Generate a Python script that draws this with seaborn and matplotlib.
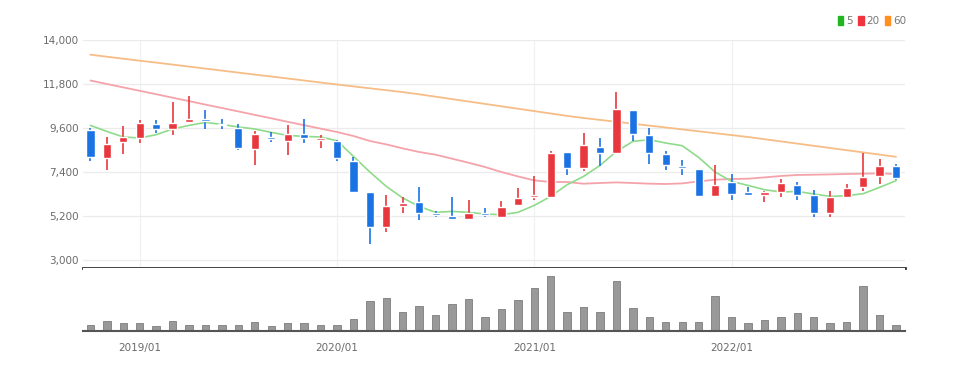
import numpy as np
import pandas as pd
import matplotlib
matplotlib.use("Agg")
import matplotlib.pyplot as plt
import seaborn as sns
from matplotlib.patches import Patch
import matplotlib.ticker as mtick

sns.set_style("white")
plt.rcParams['font.family'] = ['Liberation Sans Narrow', 'DejaVu Sans']

# monthly candles, 2018/10 .. 2022/11
months = pd.date_range("2018-10-01", periods=50, freq="MS")

opens = [9515, 8100, 8880, 9100, 9815, 9550, 9880, 10030, 9815, 9600,
         8565, 9150, 8930, 9300, 9015, 8965, 7965, 6415, 4630, 5700,
         5900, 5365, 5180, 5050, 5330, 5165, 5730, 6150, 6165, 8400,
         7580, 8665, 8350, 10515, 9230, 8315, 7715, 7550, 6180, 6880,
         6400, 6265, 6400, 6765, 6230, 5350, 6165, 6650, 7215, 7680]
closes = [8130, 8800, 9130, 9830, 9565, 9865, 10030, 9930, 9750, 8600,
          9315, 9050, 9300, 9100, 9115, 8100, 6415, 4650, 5680, 5865,
          5350, 5230, 5065, 5350, 5230, 5630, 6100, 6230, 8365, 7600,
          8750, 8330, 10565, 9300, 8350, 7765, 7600, 6180, 6750, 6300,
          6265, 6400, 6830, 6265, 5330, 6150, 6600, 7165, 7700, 7100]
highs = [9600, 9130, 9715, 10015, 9980, 10880, 11180, 10500, 10050, 9800,
         9430, 9415, 9750, 10030, 9250, 9015, 8165, 6415, 6265, 6130,
         6650, 5465, 6130, 6015, 5600, 5965, 6600, 7215, 8430, 8400,
         9330, 9100, 11400, 10515, 9600, 8430, 8015, 7550, 7765, 7300,
         6630, 6430, 7030, 6880, 6480, 6430, 6780, 8330, 8030, 7800]
lows = [7960, 7515, 8315, 8850, 9350, 9265, 9880, 9550, 9550, 8500,
        7765, 8900, 8250, 8830, 8600, 7965, 6400, 3800, 4400, 5365,
        5015, 5130, 5050, 5050, 5130, 5165, 5730, 5980, 6165, 7265,
        7430, 7715, 8350, 8930, 7815, 7515, 7230, 6150, 6180, 6000,
        6265, 5900, 6165, 5980, 5150, 5130, 6100, 6430, 6815, 7000]

volume = [18, 29, 25, 23, 14, 29, 19, 19, 18, 18,
          28, 14, 24, 23, 17, 18, 36, 90, 98, 57,
          74, 47, 80, 95, 42, 65, 93, 130, 166, 57,
          73, 57, 151, 70, 43, 28, 27, 28, 105, 41,
          23, 32, 41, 55, 43, 24, 28, 136, 48, 18]

ma5 = [9730, 9430, 9150, 9100, 9265, 9550, 9730, 9880, 9780, 9650,
       9550, 9380, 9230, 9180, 9150, 8965, 8180, 7400, 6680, 6100,
       5680, 5380, 5430, 5380, 5300, 5265, 5380, 5730, 6180, 6765,
       7180, 7730, 8430, 8930, 9015, 8850, 8715, 8130, 7400, 6930,
       6730, 6515, 6400, 6430, 6300, 6180, 6215, 6315, 6630, 6965]
ma20 = [11975, 11800, 11630, 11460, 11290, 11115, 10945, 10770, 10600, 10430,
        10255, 10085, 9910, 9740, 9570, 9400, 9200, 8950, 8780, 8580,
        8400, 8265, 8065, 7865, 7650, 7400, 7180, 6980, 6900, 6900,
        6815, 6850, 6880, 6850, 6815, 6800, 6830, 6930, 7015, 7050,
        7065, 7130, 7200, 7250, 7265, 7280, 7300, 7315, 7330, 7300]
ma60 = [13265, 13165, 13065, 12965, 12870, 12770, 12670, 12570, 12470, 12370,
        12270, 12175, 12075, 11975, 11875, 11775, 11680, 11585, 11490, 11395,
        11285, 11165, 11045, 10925, 10805, 10685, 10565, 10445, 10325, 10205,
        10100, 10005, 9910, 9815, 9720, 9625, 9530, 9435, 9340, 9245,
        9150, 9040, 8930, 8820, 8710, 8600, 8490, 8380, 8270, 8160]

price_ticks = [3000, 5200, 7400, 9600, 11800, 14000]

df = pd.DataFrame({"month": months, "open": opens, "close": closes,
                   "high": highs, "low": lows, "volume": volume,
                   "ma5": ma5, "ma20": ma20, "ma60": ma60})
df["idx"] = np.arange(len(df))

RED = "#e8383d"
BLUE = "#1b73e3"
col = np.where(df["close"] >= df["open"], RED, BLUE)

fig = plt.figure(figsize=(9.62, 3.72), dpi=100)
ax = fig.add_axes([83 / 962, 1 - 268 / 372, 822 / 962, 228 / 372])
axv = fig.add_axes([83 / 962, 1 - 331 / 372, 822 / 962, 63 / 372])

# moving averages
sns.lineplot(data=df, x="idx", y="ma60", ax=ax, color="#f7bd86", lw=1.3, zorder=2)
sns.lineplot(data=df, x="idx", y="ma20", ax=ax, color="#f5a3aa", lw=1.3, zorder=2)
sns.lineplot(data=df, x="idx", y="ma5", ax=ax, color="#8edb8a", lw=1.2, zorder=2)

# candles
body_lo = np.minimum(df["open"], df["close"])
body_h = np.maximum(np.abs(df["close"] - df["open"]), 60)
ax.vlines(df["idx"], df["low"], df["high"], colors=col, lw=1.2, zorder=3)
ax.bar(df["idx"], body_h, bottom=body_lo, width=0.5, color=col, zorder=4)

year_pos = df.loc[df["month"].dt.month == 1, "idx"].tolist()
year_lab = df.loc[df["month"].dt.month == 1, "month"].dt.strftime("%Y/%m").tolist()

ax.set_xlim(-0.45, 49.55)
ax.set_ylim(2600, 14000)
ax.set_yticks(price_ticks)
ax.yaxis.set_major_formatter(mtick.StrMethodFormatter("{x:,.0f}"))
ax.set_xticks(year_pos)
ax.tick_params(axis="x", labelbottom=False, length=0)
ax.tick_params(axis="y", length=0, pad=3, labelsize=7.5, labelcolor="#6a6a6a")
ax.grid(axis="y", color="#ebebeb", lw=0.9)
ax.grid(axis="x", color="#f1f1f1", lw=0.9)
ax.set_xlabel("")
ax.set_ylabel("")
for s in ["top", "left", "right"]:
    ax.spines[s].set_visible(False)
ax.spines["bottom"].set_color("#333333")
ax.spines["bottom"].set_linewidth(2)

# volume
sns.barplot(data=df, x="idx", y="volume", ax=axv, color="#999999",
            width=0.45, edgecolor="#7d7d7d", linewidth=0.6, saturation=1)
axv.set_xlim(-0.45, 49.55)
axv.set_ylim(0, 189)
axv.set_yticks([])
axv.set_xticks(year_pos)
axv.set_xticklabels(year_lab)
axv.tick_params(axis="x", length=4, width=1, color="#555555", pad=5,
                labelsize=7.5, labelcolor="#6a6a6a")
axv.set_xlabel("")
axv.set_ylabel("")
for s in ["top", "left", "right"]:
    axv.spines[s].set_visible(False)
axv.spines["bottom"].set_color("#555555")
axv.spines["bottom"].set_linewidth(1.5)

handles = [Patch(color="#22b522"), Patch(color="#f0343f"), Patch(color="#ff8f1f")]
fig.legend(handles, ["5", "20", "60"], loc="upper right",
           bbox_to_anchor=(906 / 962, 1 - 16 / 372), ncol=3, frameon=False,
           handlelength=0.55, handleheight=1.0, handletextpad=0.25,
           columnspacing=0.5, fontsize=7.5, labelcolor="#777777",
           borderpad=0, borderaxespad=0)

fig.savefig("out.png", dpi=100)
